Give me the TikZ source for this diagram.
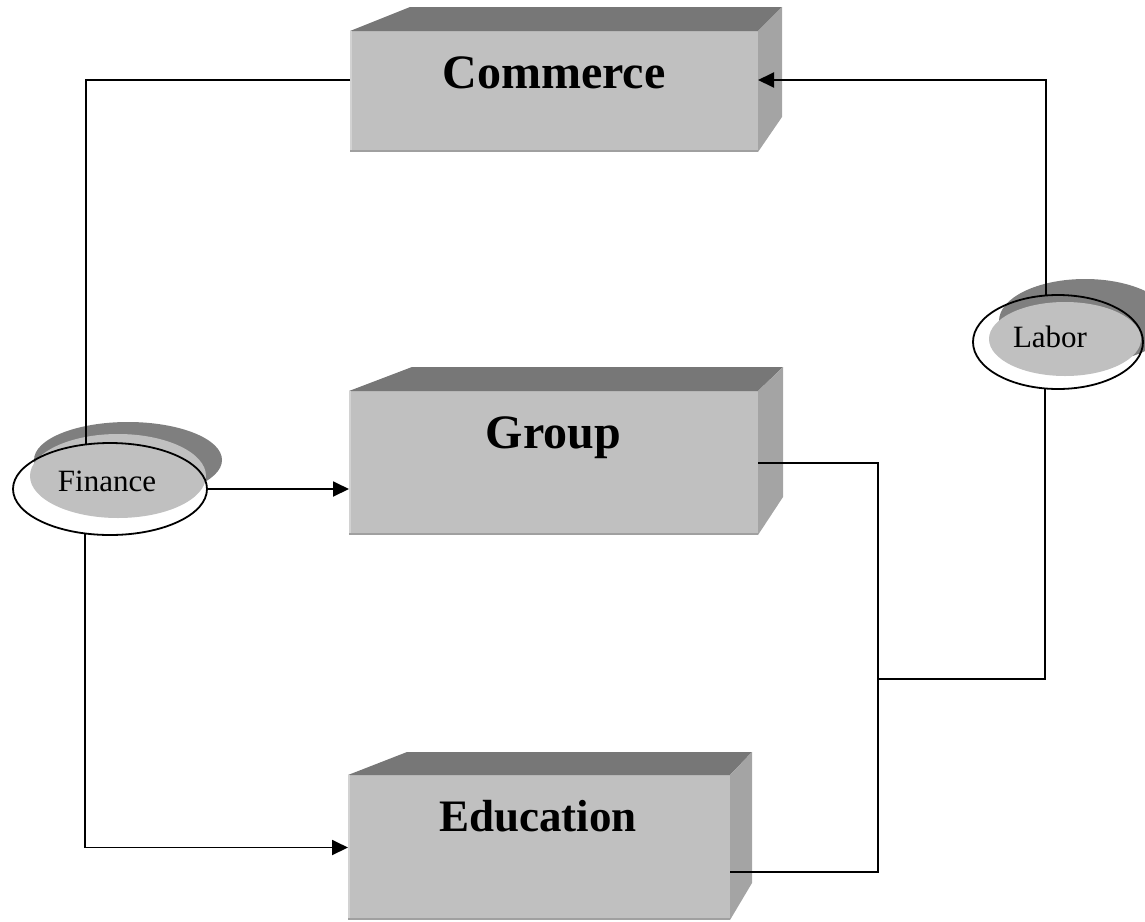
\documentclass[tikz,border=0pt]{standalone}
\usepackage{fontspec}
\setmainfont{Liberation Serif}
\usetikzlibrary{arrows.meta,shapes.geometric,calc}
\definecolor{frontc}{HTML}{C0C0C0}
\definecolor{topc}{HTML}{777777}
\definecolor{sidec}{HTML}{A4A4A4}
\definecolor{shadc}{HTML}{7F7F7F}
\definecolor{edgedark}{HTML}{A0A0A0}
\definecolor{edgelight}{HTML}{D2D2D2}
\begin{document}
\begin{tikzpicture}[x=1pt,y=-1pt,
  frontface/.style={rectangle, fill=frontc, inner sep=0pt, outer sep=0pt},
  topface/.style={fill=topc},
  sideface/.style={fill=sidec},
  bevdark/.style={draw=edgedark, line width=2pt},
  bevlight/.style={draw=edgelight, line width=2pt},
  bigtxt/.style={font=\fontsize{48}{50}\selectfont\bfseries, anchor=base, inner sep=0pt},
  smalltxt/.style={font=\fontsize{31}{34}\selectfont, anchor=base, inner sep=0pt},
  ring/.style={ellipse, draw=black, line width=1.8pt, inner sep=0pt},
  conn/.style={line width=1.9pt, draw=black},
  arr/.style={conn, -{Triangle[length=16pt,width=15pt]}},
]
\useasboundingbox (0,0) rectangle (1145,921);

% Commerce box
\node[frontface, minimum width=408pt, minimum height=121pt] (com) at (554,91.5) {};
\fill[topface] (com.north west) -- (410,7) -- (782,7) -- (com.north east) -- cycle;
\fill[sideface] (com.north east) -- (782,7) -- (782,117) -- (com.south east) -- cycle;
\draw[bevlight] ([xshift=1pt]com.north west) -- ([xshift=1pt]com.south west);
\draw[bevdark] ([yshift=1pt]com.south west) -- ([yshift=1pt]com.south east);
\node[bigtxt] (comt) at (554,88) {Commerce};

% Group box
\node[frontface, minimum width=409pt, minimum height=144pt] (grp) at (553.5,463) {};
\fill[topface] (grp.north west) -- (412,367) -- (783,367) -- (grp.north east) -- cycle;
\fill[sideface] (grp.north east) -- (783,367) -- (783,497) -- (grp.south east) -- cycle;
\draw[bevlight] ([xshift=1pt]grp.north west) -- ([xshift=1pt]grp.south west);
\draw[bevdark] ([yshift=1pt]grp.south west) -- ([yshift=1pt]grp.south east);
\node[bigtxt] (grpt) at (553.5,448) {Group};

% Education box
\node[frontface, minimum width=382pt, minimum height=145pt] (edu) at (539,847.5) {};
\fill[topface] (edu.north west) -- (407,752) -- (752,752) -- (edu.north east) -- cycle;
\fill[sideface] (edu.north east) -- (752,752) -- (752,883) -- (edu.south east) -- cycle;
\draw[bevlight] ([xshift=1pt]edu.north west) -- ([xshift=1pt]edu.south west);
\draw[bevdark] ([yshift=1pt]edu.south west) -- ([yshift=1pt]edu.south east);
\node[bigtxt, font=\fontsize{45}{48}\selectfont\bfseries] (edut) at (538,831) {Education};

% Finance ellipse
\fill[shadc] (128,460) ellipse [x radius=94pt, y radius=38pt];
\fill[frontc] (118,476) ellipse [x radius=88pt, y radius=42pt];
\node[smalltxt] (fint) at (107,491) {Finance};
\node[ring, minimum width=194pt, minimum height=92pt] (fin) at (110,489) {};

% Labor ellipse
\fill[shadc] (1085,321) ellipse [x radius=86pt, y radius=42pt];
\fill[frontc] (1065,339) ellipse [x radius=76pt, y radius=37pt];
\node[smalltxt] (labt) at (1050,347) {Labor};
\node[ring, minimum width=170pt, minimum height=94pt] (lab) at (1058,342) {};

% connectors
\coordinate (jn) at (878,679);
\draw[conn] ([yshift=11.5pt]com.west) -| (fin.118.3);
\draw[arr] (fin.241.7) |- (edu.west);
\draw[arr] (fin.east) -- (fin.east -| grp.west);
\draw[conn] (grp.east) -| (jn) |- ([yshift=-24.5pt]edu.east);
\draw[conn] (jn) -| (lab.255.5);
\draw[arr] (lab.104.5) |- ([yshift=11.5pt]com.east);
\end{tikzpicture}
\end{document}
